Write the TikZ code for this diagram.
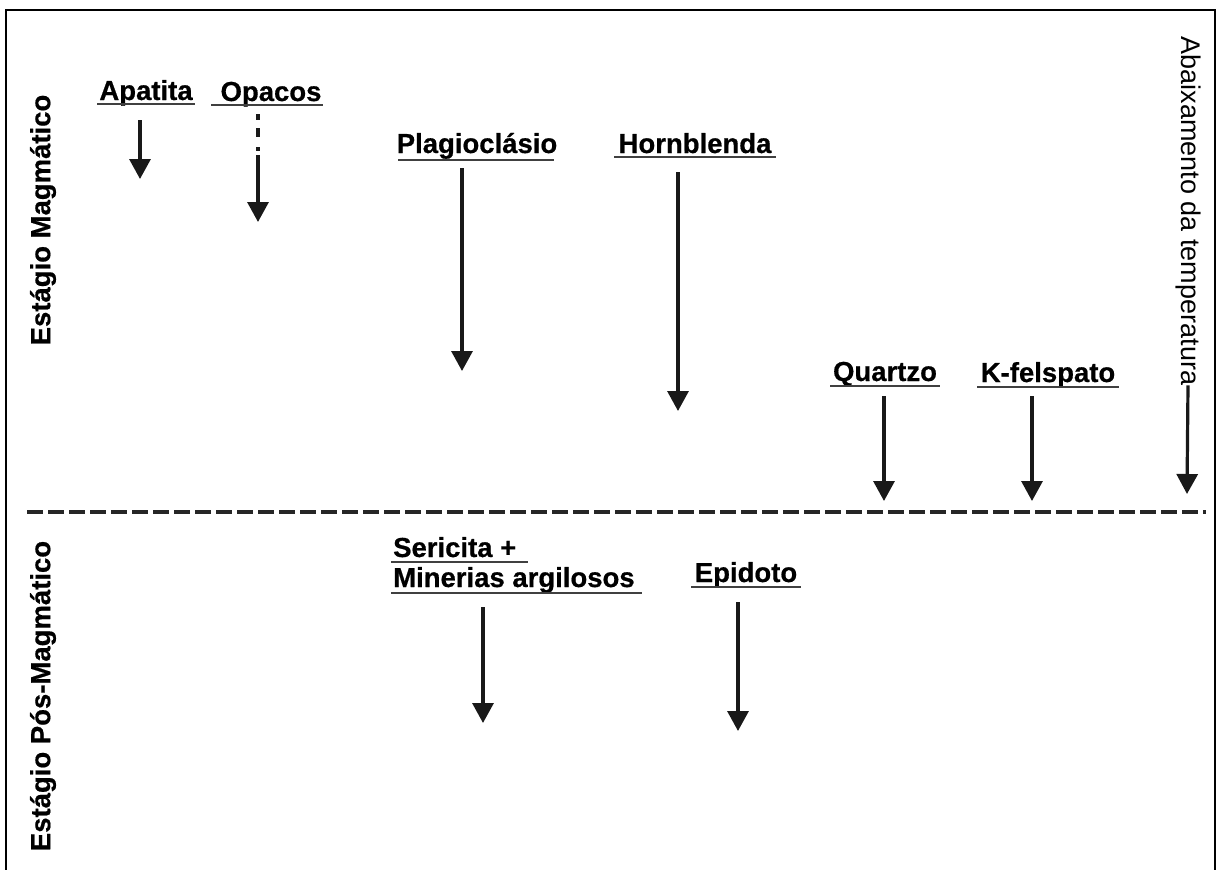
\documentclass[tikz,border=0pt]{standalone}
\usepackage{fontspec}
\setmainfont{Liberation Sans}[BoldFeatures={FakeBold=0.6}]
\usetikzlibrary{arrows.meta}
\begin{document}
\begin{tikzpicture}[x=1pt,y=-1pt,
  lab/.style={font=\fontsize{27.5}{30}\selectfont\bfseries, inner sep=0pt, anchor=base},
  vlab/.style={font=\fontsize{27.5}{30}\selectfont\bfseries, inner sep=0pt, rotate=90},
  ul/.style={line width=2.4pt, color=black!75},
  arr/.style={line width=3.2pt, color=black!90, -{Triangle[width=21pt,length=20pt]}},
  framestyle/.style={line width=2pt, line cap=rect},
  sep/.style={line width=3.2pt, color=black!85, dash pattern=on 16pt off 5pt}]
\useasboundingbox (0,0) rectangle (1219,870);
% frame (open at the bottom)
\draw[framestyle] (6,872) -- (6,10) -- (1215,10) -- (1215,872);

% stage labels
\node[vlab] (mag) at (43,220) {Estágio Magmático};
\node[vlab] (pos) at (43,696) {Estágio Pós-Magmático};

% temperature axis
\node[font=\fontsize{27}{30}\selectfont, inner sep=0pt, rotate=-90] (abx) at (1188,211) {Abaixamento da temperatura};
\coordinate (abx-end) at (1187,494);
\draw[arr] (abx.east) -- (abx-end);

% separator
\coordinate (sepL) at (27,512);
\coordinate (sepR) at (1206,512);
\draw[sep] (sepL) -- (sepR);

% magmatic minerals
\node[lab] (apa) at (146,100) {Apatita};
\draw[ul] (97,104) -- (195,104);
\coordinate (apa-a) at (140,120);
\coordinate (apa-b) at (140,179);
\draw[arr] (apa-a) -- (apa-b);

\node[lab] (opa) at (271,101) {Opacos};
\draw[ul] (211,105) -- (323,105);
\coordinate (opa-d) at (258,114);
\coordinate (opa-a) at (258,155);
\coordinate (opa-b) at (258,222);
\draw[line width=3.2pt, color=black!90, dash pattern=on 6pt off 8pt on 9pt off 10pt on 4pt off 20pt] (opa-d) -- (opa-a);
\draw[arr] (opa-a) -- (opa-b);

\node[lab] (pla) at (477,153) {Plagioclásio};
\draw[ul] (398,160) -- (554,160);
\coordinate (pla-a) at (462,168);
\coordinate (pla-b) at (462,371);
\draw[arr] (pla-a) -- (pla-b);

\node[lab] (hor) at (695,153) {Hornblenda};
\draw[ul] (614,157) -- (776,157);
\coordinate (hor-a) at (678,172);
\coordinate (hor-b) at (678,411);
\draw[arr] (hor-a) -- (hor-b);

\node[lab] (qtz) at (885,381) {Quartzo};
\draw[ul] (830,386) -- (940,386);
\coordinate (qtz-a) at (884,396);
\coordinate (qtz-b) at (884,501);
\draw[arr] (qtz-a) -- (qtz-b);

\node[lab] (kfs) at (1048,382) {K-felspato};
\draw[ul] (977,387) -- (1119,387);
\coordinate (kfs-a) at (1032,396);
\coordinate (kfs-b) at (1032,501);
\draw[arr] (kfs-a) -- (kfs-b);

% post-magmatic minerals
\node[lab, anchor=base west] (ser) at (393,557) {Sericita +};
\draw[ul] (391,562) -- (528,562);
\node[lab, anchor=base west] (min) at (393,587) {Minerias argilosos};
\draw[ul] (391,593) -- (642,593);
\coordinate (min-a) at (483,607);
\coordinate (min-b) at (483,723);
\draw[arr] (min-a) -- (min-b);

\node[lab] (epi) at (746,582) {Epidoto};
\draw[ul] (691,587) -- (801,587);
\coordinate (epi-a) at (738,602);
\coordinate (epi-b) at (738,731);
\draw[arr] (epi-a) -- (epi-b);
\end{tikzpicture}
\end{document}
